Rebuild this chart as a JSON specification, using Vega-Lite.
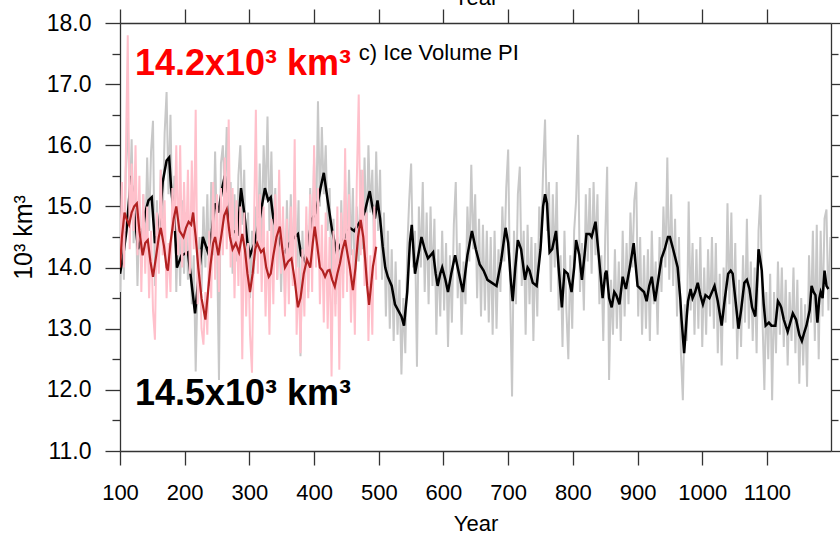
{
  "$schema": "https://vega.github.io/schema/vega-lite/v6.json",
  "width": 711,
  "height": 428,
  "autosize": {"type": "none"},
  "padding": {"left": 120, "top": 23, "right": 9, "bottom": 85},
  "background": "white",
  "config": {
    "view": {"stroke": null},
    "font": "Liberation Sans",
    "axis": {"labelFont": "Liberation Sans", "titleFont": "Liberation Sans", "labelColor": "black", "titleColor": "black", "titleFontWeight": "normal", "domainColor": "#333333", "tickColor": "#333333", "domainWidth": 1.3, "tickWidth": 1.3, "grid": false}
  },
  "datasets": {
    "grey": [
      {"year":100,"vol":13.6},{"year":103,"vol":14.9},{"year":106,"vol":13.8},{"year":109,"vol":15.6},{"year":112,"vol":16.45},{"year":115,"vol":15.0},{"year":118,"vol":16.1},{"year":121,"vol":14.4},{"year":124,"vol":15.3},{"year":127,"vol":13.7},
      {"year":130,"vol":14.9},{"year":133,"vol":14.0},{"year":136,"vol":15.2},{"year":139,"vol":14.3},{"year":142,"vol":15.8},{"year":145,"vol":14.6},{"year":148,"vol":15.9},{"year":151,"vol":16.4},{"year":154,"vol":13.7},{"year":157,"vol":15.1},
      {"year":160,"vol":14.0},{"year":163,"vol":15.6},{"year":166,"vol":14.8},{"year":169,"vol":16.2},{"year":172,"vol":16.87},{"year":175,"vol":15.2},{"year":178,"vol":16.5},{"year":181,"vol":14.6},{"year":184,"vol":15.5},{"year":187,"vol":13.6},
      {"year":190,"vol":14.8},{"year":193,"vol":13.7},{"year":196,"vol":15.1},{"year":199,"vol":13.9},{"year":202,"vol":14.9},{"year":205,"vol":13.8},{"year":208,"vol":14.6},{"year":211,"vol":13.4},{"year":214,"vol":14.2},{"year":217,"vol":12.3},
      {"year":220,"vol":13.8},{"year":223,"vol":14.5},{"year":226,"vol":13.6},{"year":229,"vol":15.0},{"year":232,"vol":14.0},{"year":235,"vol":15.2},{"year":238,"vol":13.7},{"year":241,"vol":15.4},{"year":244,"vol":14.2},{"year":247,"vol":15.9},
      {"year":250,"vol":14.4},{"year":253,"vol":12.16},{"year":256,"vol":15.7},{"year":259,"vol":16.0},{"year":262,"vol":15.2},{"year":265,"vol":16.3},{"year":268,"vol":14.6},{"year":271,"vol":15.4},{"year":274,"vol":13.9},{"year":277,"vol":15.2},
      {"year":280,"vol":14.1},{"year":283,"vol":15.5},{"year":286,"vol":16.0},{"year":289,"vol":14.7},{"year":292,"vol":15.6},{"year":295,"vol":13.8},{"year":298,"vol":14.9},{"year":301,"vol":13.5},{"year":304,"vol":14.6},{"year":307,"vol":13.9},
      {"year":310,"vol":15.0},{"year":313,"vol":14.2},{"year":316,"vol":15.7},{"year":319,"vol":14.4},{"year":322,"vol":16.0},{"year":325,"vol":15.1},{"year":328,"vol":16.47},{"year":331,"vol":14.6},{"year":334,"vol":15.9},{"year":337,"vol":14.3},
      {"year":340,"vol":15.3},{"year":343,"vol":13.8},{"year":346,"vol":15.0},{"year":349,"vol":13.6},{"year":352,"vol":14.8},{"year":355,"vol":13.5},{"year":358,"vol":15.1},{"year":361,"vol":13.9},{"year":364,"vol":15.2},{"year":367,"vol":13.8},
      {"year":370,"vol":15.4},{"year":373,"vol":14.0},{"year":376,"vol":15.1},{"year":379,"vol":12.55},{"year":382,"vol":14.6},{"year":385,"vol":13.5},{"year":388,"vol":14.7},{"year":391,"vol":13.6},{"year":394,"vol":15.3},{"year":397,"vol":14.2},
      {"year":400,"vol":15.8},{"year":403,"vol":14.5},{"year":406,"vol":16.72},{"year":409,"vol":15.0},{"year":412,"vol":16.3},{"year":415,"vol":15.2},{"year":418,"vol":16.0},{"year":421,"vol":14.6},{"year":424,"vol":15.3},{"year":427,"vol":13.8},
      {"year":430,"vol":14.8},{"year":433,"vol":13.4},{"year":436,"vol":14.5},{"year":439,"vol":13.3},{"year":442,"vol":15.1},{"year":445,"vol":13.9},{"year":448,"vol":15.4},{"year":451,"vol":14.0},{"year":454,"vol":15.6},{"year":457,"vol":14.2},
      {"year":460,"vol":15.3},{"year":463,"vol":13.6},{"year":466,"vol":15.0},{"year":469,"vol":14.1},{"year":472,"vol":15.6},{"year":475,"vol":14.3},{"year":478,"vol":15.8},{"year":481,"vol":14.4},{"year":484,"vol":16.0},{"year":487,"vol":14.9},
      {"year":490,"vol":15.6},{"year":493,"vol":14.2},{"year":496,"vol":15.9},{"year":499,"vol":14.6},{"year":502,"vol":15.6},{"year":505,"vol":13.8},{"year":508,"vol":14.9},{"year":511,"vol":13.2},{"year":514,"vol":14.6},{"year":517,"vol":13.0},
      {"year":520,"vol":14.3},{"year":523,"vol":12.8},{"year":526,"vol":14.1},{"year":529,"vol":12.9},{"year":532,"vol":13.8},{"year":535,"vol":12.25},{"year":538,"vol":13.5},{"year":541,"vol":12.6},{"year":544,"vol":14.3},{"year":547,"vol":15.1},
      {"year":550,"vol":15.7},{"year":553,"vol":14.0},{"year":556,"vol":14.6},{"year":559,"vol":12.38},{"year":562,"vol":15.0},{"year":565,"vol":14.0},{"year":568,"vol":15.4},{"year":571,"vol":13.6},{"year":574,"vol":14.9},{"year":577,"vol":13.4},
      {"year":580,"vol":15.0},{"year":583,"vol":13.7},{"year":586,"vol":14.8},{"year":589,"vol":12.9},{"year":592,"vol":14.3},{"year":595,"vol":13.2},{"year":598,"vol":14.6},{"year":601,"vol":13.3},{"year":604,"vol":14.4},{"year":607,"vol":12.7},
      {"year":610,"vol":14.2},{"year":613,"vol":13.1},{"year":616,"vol":14.7},{"year":619,"vol":15.4},{"year":622,"vol":13.5},{"year":625,"vol":14.4},{"year":628,"vol":12.9},{"year":631,"vol":14.1},{"year":634,"vol":13.4},{"year":637,"vol":15.0},
      {"year":640,"vol":14.1},{"year":643,"vol":15.68},{"year":646,"vol":14.3},{"year":649,"vol":15.2},{"year":652,"vol":13.5},{"year":655,"vol":14.8},{"year":658,"vol":13.2},{"year":661,"vol":14.7},{"year":664,"vol":13.3},{"year":667,"vol":14.6},
      {"year":670,"vol":13.1},{"year":673,"vol":14.5},{"year":676,"vol":12.9},{"year":679,"vol":14.6},{"year":682,"vol":13.0},{"year":685,"vol":14.3},{"year":688,"vol":13.6},{"year":691,"vol":15.0},{"year":694,"vol":14.1},{"year":697,"vol":15.3},
      {"year":700,"vol":15.93},{"year":703,"vol":13.6},{"year":706,"vol":11.89},{"year":709,"vol":14.6},{"year":712,"vol":13.4},{"year":715,"vol":15.2},{"year":718,"vol":15.65},{"year":721,"vol":13.7},{"year":724,"vol":14.6},{"year":727,"vol":12.9},
      {"year":730,"vol":14.7},{"year":733,"vol":13.4},{"year":736,"vol":14.5},{"year":739,"vol":12.8},{"year":742,"vol":14.4},{"year":745,"vol":13.2},{"year":748,"vol":15.0},{"year":751,"vol":14.4},{"year":754,"vol":15.6},{"year":757,"vol":16.42},
      {"year":760,"vol":14.6},{"year":763,"vol":15.4},{"year":766,"vol":13.6},{"year":769,"vol":15.2},{"year":772,"vol":14.0},{"year":775,"vol":15.4},{"year":778,"vol":13.3},{"year":781,"vol":14.2},{"year":784,"vol":12.7},{"year":787,"vol":14.6},
      {"year":790,"vol":13.3},{"year":793,"vol":12.5},{"year":796,"vol":14.2},{"year":799,"vol":13.0},{"year":802,"vol":14.6},{"year":805,"vol":15.1},{"year":808,"vol":16.17},{"year":811,"vol":13.6},{"year":814,"vol":14.4},{"year":817,"vol":13.3},
      {"year":820,"vol":15.2},{"year":823,"vol":14.1},{"year":826,"vol":15.3},{"year":829,"vol":13.9},{"year":832,"vol":15.4},{"year":835,"vol":14.2},{"year":838,"vol":15.2},{"year":841,"vol":13.4},{"year":844,"vol":14.2},{"year":847,"vol":12.8},
      {"year":850,"vol":14.5},{"year":853,"vol":15.65},{"year":856,"vol":12.16},{"year":859,"vol":13.8},{"year":862,"vol":12.9},{"year":865,"vol":14.3},{"year":868,"vol":13.0},{"year":871,"vol":14.1},{"year":874,"vol":12.8},{"year":877,"vol":14.6},
      {"year":880,"vol":13.2},{"year":883,"vol":14.4},{"year":886,"vol":13.4},{"year":889,"vol":14.9},{"year":892,"vol":14.0},{"year":895,"vol":15.1},{"year":898,"vol":15.4},{"year":901,"vol":13.2},{"year":904,"vol":14.5},{"year":907,"vol":12.9},
      {"year":910,"vol":14.2},{"year":913,"vol":13.0},{"year":916,"vol":14.3},{"year":919,"vol":12.8},{"year":922,"vol":14.6},{"year":925,"vol":13.4},{"year":928,"vol":14.1},{"year":931,"vol":12.9},{"year":934,"vol":14.5},{"year":937,"vol":13.6},
      {"year":940,"vol":15.0},{"year":943,"vol":14.0},{"year":946,"vol":15.8},{"year":949,"vol":13.8},{"year":952,"vol":15.2},{"year":955,"vol":13.7},{"year":958,"vol":14.8},{"year":961,"vol":13.2},{"year":964,"vol":14.5},{"year":967,"vol":12.6},
      {"year":970,"vol":11.83},{"year":973,"vol":13.4},{"year":976,"vol":12.8},{"year":979,"vol":15.08},{"year":982,"vol":13.3},{"year":985,"vol":14.4},{"year":988,"vol":12.9},{"year":991,"vol":14.3},{"year":994,"vol":13.0},{"year":997,"vol":14.5},
      {"year":1000,"vol":12.7},{"year":1003,"vol":14.0},{"year":1006,"vol":12.9},{"year":1009,"vol":14.3},{"year":1012,"vol":13.2},{"year":1015,"vol":14.5},{"year":1018,"vol":13.0},{"year":1021,"vol":14.4},{"year":1024,"vol":12.6},{"year":1027,"vol":13.9},
      {"year":1030,"vol":12.4},{"year":1033,"vol":14.0},{"year":1036,"vol":13.1},{"year":1039,"vol":15.05},{"year":1042,"vol":13.4},{"year":1045,"vol":14.9},{"year":1048,"vol":13.0},{"year":1051,"vol":14.4},{"year":1054,"vol":12.5},{"year":1057,"vol":13.8},
      {"year":1060,"vol":12.7},{"year":1063,"vol":14.2},{"year":1066,"vol":13.1},{"year":1069,"vol":14.8},{"year":1072,"vol":13.0},{"year":1075,"vol":14.1},{"year":1078,"vol":12.8},{"year":1081,"vol":14.0},{"year":1084,"vol":12.6},{"year":1087,"vol":14.6},
      {"year":1090,"vol":15.19},{"year":1093,"vol":13.2},{"year":1096,"vol":12.0},{"year":1099,"vol":13.6},{"year":1102,"vol":12.5},{"year":1105,"vol":13.9},{"year":1108,"vol":11.83},{"year":1111,"vol":13.6},{"year":1114,"vol":12.6},{"year":1117,"vol":14.1},
      {"year":1120,"vol":12.9},{"year":1123,"vol":14.0},{"year":1126,"vol":12.7},{"year":1129,"vol":13.8},{"year":1132,"vol":12.4},{"year":1135,"vol":13.6},{"year":1138,"vol":12.8},{"year":1141,"vol":14.0},{"year":1144,"vol":12.6},{"year":1147,"vol":13.8},
      {"year":1150,"vol":12.1},{"year":1153,"vol":13.5},{"year":1156,"vol":12.4},{"year":1159,"vol":13.4},{"year":1162,"vol":12.05},{"year":1165,"vol":14.2},{"year":1168,"vol":13.1},{"year":1171,"vol":14.6},{"year":1174,"vol":12.8},{"year":1177,"vol":14.7},
      {"year":1180,"vol":12.5},{"year":1183,"vol":14.6},{"year":1186,"vol":13.2},{"year":1189,"vol":14.8},{"year":1192,"vol":14.95},{"year":1195,"vol":13.3},{"year":1198,"vol":14.5}
    ],
    "pink": [
      {"year":100,"vol":14.1},{"year":103,"vol":15.4},{"year":106,"vol":14.0},{"year":109,"vol":15.8},{"year":112,"vol":17.8},{"year":115,"vol":14.3},{"year":118,"vol":15.7},{"year":121,"vol":14.6},{"year":124,"vol":16.0},{"year":127,"vol":14.2},
      {"year":130,"vol":15.5},{"year":133,"vol":13.6},{"year":136,"vol":15.2},{"year":139,"vol":13.9},{"year":142,"vol":15.0},{"year":145,"vol":13.5},{"year":148,"vol":14.6},{"year":151,"vol":13.3},{"year":154,"vol":12.82},{"year":157,"vol":14.9},
      {"year":160,"vol":13.9},{"year":163,"vol":15.6},{"year":166,"vol":14.2},{"year":169,"vol":15.1},{"year":172,"vol":13.5},{"year":175,"vol":14.4},{"year":178,"vol":13.6},{"year":181,"vol":15.3},{"year":184,"vol":14.6},{"year":187,"vol":16.0},
      {"year":190,"vol":14.2},{"year":193,"vol":16.0},{"year":196,"vol":14.0},{"year":199,"vol":15.4},{"year":202,"vol":14.2},{"year":205,"vol":15.6},{"year":208,"vol":13.9},{"year":211,"vol":15.75},{"year":214,"vol":14.3},{"year":217,"vol":16.58},
      {"year":220,"vol":13.4},{"year":223,"vol":14.3},{"year":226,"vol":13.0},{"year":229,"vol":12.74},{"year":232,"vol":13.6},{"year":235,"vol":12.9},{"year":238,"vol":14.6},{"year":241,"vol":13.5},{"year":244,"vol":15.4},{"year":247,"vol":13.8},
      {"year":250,"vol":15.2},{"year":253,"vol":13.6},{"year":256,"vol":15.3},{"year":259,"vol":14.2},{"year":262,"vol":15.8},{"year":265,"vol":14.3},{"year":268,"vol":16.42},{"year":271,"vol":14.0},{"year":274,"vol":15.3},{"year":277,"vol":13.5},
      {"year":280,"vol":15.1},{"year":283,"vol":13.7},{"year":286,"vol":15.0},{"year":289,"vol":12.5},{"year":292,"vol":14.9},{"year":295,"vol":13.2},{"year":298,"vol":14.4},{"year":301,"vol":12.9},{"year":304,"vol":12.28},{"year":307,"vol":14.6},
      {"year":310,"vol":16.58},{"year":313,"vol":13.9},{"year":316,"vol":15.2},{"year":319,"vol":13.6},{"year":322,"vol":15.0},{"year":325,"vol":13.2},{"year":328,"vol":14.6},{"year":331,"vol":12.9},{"year":334,"vol":14.8},{"year":337,"vol":13.4},
      {"year":340,"vol":15.2},{"year":343,"vol":13.8},{"year":346,"vol":15.6},{"year":349,"vol":13.9},{"year":352,"vol":15.0},{"year":355,"vol":13.2},{"year":358,"vol":14.8},{"year":361,"vol":13.4},{"year":364,"vol":15.0},{"year":367,"vol":13.7},
      {"year":370,"vol":16.1},{"year":373,"vol":12.9},{"year":376,"vol":14.0},{"year":379,"vol":12.6},{"year":382,"vol":14.3},{"year":385,"vol":13.2},{"year":388,"vol":15.0},{"year":391,"vol":13.5},{"year":394,"vol":15.2},{"year":397,"vol":13.6},
      {"year":400,"vol":16.0},{"year":403,"vol":14.0},{"year":406,"vol":15.3},{"year":409,"vol":13.4},{"year":412,"vol":14.7},{"year":415,"vol":13.1},{"year":418,"vol":14.9},{"year":421,"vol":13.0},{"year":424,"vol":14.5},{"year":427,"vol":12.22},
      {"year":430,"vol":14.6},{"year":433,"vol":13.2},{"year":436,"vol":15.0},{"year":439,"vol":12.33},{"year":442,"vol":14.9},{"year":445,"vol":13.5},{"year":448,"vol":15.95},{"year":451,"vol":13.6},{"year":454,"vol":15.2},{"year":457,"vol":13.1},
      {"year":460,"vol":14.3},{"year":463,"vol":12.9},{"year":466,"vol":15.4},{"year":469,"vol":16.83},{"year":472,"vol":14.2},{"year":475,"vol":15.6},{"year":478,"vol":13.7},{"year":481,"vol":14.9},{"year":484,"vol":12.8},{"year":487,"vol":14.2},
      {"year":490,"vol":12.9},{"year":493,"vol":15.0},{"year":496,"vol":13.8}
    ],
    "black": [
      {"year":100,"vol":13.9},{"year":105,"vol":14.2},{"year":110,"vol":14.6},{"year":117,"vol":15.5},{"year":122,"vol":14.9},{"year":128,"vol":14.3},{"year":134,"vol":14.5},{"year":139,"vol":14.9},{"year":144,"vol":15.1},{"year":149,"vol":15.15},
      {"year":154,"vol":14.4},{"year":160,"vol":14.6},{"year":166,"vol":15.4},{"year":172,"vol":15.75},{"year":176,"vol":15.8},{"year":179,"vol":15.3},{"year":184,"vol":14.8},{"year":188,"vol":14.0},{"year":195,"vol":14.2},{"year":205,"vol":14.25},
      {"year":210,"vol":13.8},{"year":216,"vol":13.25},{"year":222,"vol":13.9},{"year":228,"vol":14.5},{"year":236,"vol":14.25},{"year":242,"vol":14.6},{"year":247,"vol":15.05},{"year":252,"vol":14.9},{"year":258,"vol":15.3},{"year":262,"vol":15.5},
      {"year":267,"vol":14.8},{"year":275,"vol":14.6},{"year":282,"vol":14.55},{"year":287,"vol":15.3},{"year":292,"vol":14.9},{"year":297,"vol":14.4},{"year":301,"vol":14.2},{"year":308,"vol":14.4},{"year":316,"vol":14.8},{"year":324,"vol":15.3},
      {"year":329,"vol":15.1},{"year":333,"vol":15.15},{"year":337,"vol":14.8},{"year":345,"vol":14.5},{"year":350,"vol":14.3},{"year":355,"vol":14.25},{"year":362,"vol":14.4},{"year":370,"vol":14.5},{"year":375,"vol":14.55},{"year":380,"vol":14.2},
      {"year":386,"vol":14.1},{"year":392,"vol":14.5},{"year":397,"vol":14.8},{"year":403,"vol":14.9},{"year":410,"vol":15.3},{"year":415,"vol":15.55},{"year":421,"vol":15.1},{"year":428,"vol":14.6},{"year":435,"vol":14.25},{"year":442,"vol":14.4},
      {"year":448,"vol":14.5},{"year":455,"vol":14.65},{"year":462,"vol":14.6},{"year":471,"vol":14.75},{"year":478,"vol":14.9},{"year":486,"vol":15.25},{"year":490,"vol":15.0},{"year":494,"vol":14.8},{"year":498,"vol":15.1},{"year":502,"vol":14.8},
      {"year":506,"vol":14.35},{"year":510,"vol":14.0},{"year":514,"vol":13.85},{"year":520,"vol":13.7},{"year":525,"vol":13.4},{"year":530,"vol":13.3},{"year":535,"vol":13.2},{"year":539,"vol":13.05},{"year":544,"vol":13.6},{"year":548,"vol":14.4},
      {"year":551,"vol":14.7},{"year":556,"vol":13.9},{"year":561,"vol":14.2},{"year":566,"vol":14.5},{"year":571,"vol":14.3},{"year":576,"vol":14.15},{"year":580,"vol":14.2},{"year":584,"vol":14.25},{"year":588,"vol":13.9},{"year":591,"vol":13.7},
      {"year":595,"vol":13.9},{"year":598,"vol":14.0},{"year":603,"vol":13.8},{"year":607,"vol":13.6},{"year":612,"vol":13.9},{"year":618,"vol":14.2},{"year":624,"vol":13.9},{"year":630,"vol":13.6},{"year":637,"vol":14.2},{"year":644,"vol":14.6},
      {"year":650,"vol":14.3},{"year":656,"vol":14.05},{"year":662,"vol":13.95},{"year":668,"vol":13.8},{"year":675,"vol":13.75},{"year":682,"vol":13.7},{"year":689,"vol":14.1},{"year":696,"vol":14.65},{"year":700,"vol":14.4},{"year":704,"vol":13.8},
      {"year":707,"vol":13.45},{"year":711,"vol":14.0},{"year":715,"vol":14.45},{"year":720,"vol":14.3},{"year":726,"vol":13.8},{"year":730,"vol":14.0},{"year":733,"vol":13.95},{"year":738,"vol":13.75},{"year":744,"vol":13.7},{"year":750,"vol":14.3},
      {"year":754,"vol":15.0},{"year":757,"vol":15.2},{"year":760,"vol":15.05},{"year":764,"vol":14.25},{"year":768,"vol":14.3},{"year":774,"vol":14.6},{"year":778,"vol":14.0},{"year":783,"vol":13.35},{"year":787,"vol":13.95},{"year":792,"vol":13.9},
      {"year":798,"vol":13.6},{"year":802,"vol":14.0},{"year":805,"vol":14.45},{"year":810,"vol":14.2},{"year":814,"vol":13.8},{"year":818,"vol":14.2},{"year":821,"vol":14.55},{"year":826,"vol":14.55},{"year":829,"vol":14.5},{"year":835,"vol":14.75},
      {"year":840,"vol":14.2},{"year":846,"vol":13.5},{"year":850,"vol":13.9},{"year":852,"vol":13.95},{"year":856,"vol":13.5},{"year":860,"vol":13.35},{"year":864,"vol":13.6},{"year":867,"vol":13.55},{"year":872,"vol":13.4},{"year":877,"vol":13.85},
      {"year":882,"vol":13.65},{"year":888,"vol":14.0},{"year":894,"vol":14.4},{"year":900,"vol":13.7},{"year":905,"vol":13.65},{"year":910,"vol":13.6},{"year":914,"vol":13.45},{"year":918,"vol":13.7},{"year":922,"vol":13.85},{"year":927,"vol":13.45},
      {"year":932,"vol":13.8},{"year":937,"vol":14.15},{"year":942,"vol":14.3},{"year":947,"vol":14.5},{"year":950,"vol":14.5},{"year":955,"vol":14.3},{"year":962,"vol":14.0},{"year":966,"vol":13.5},{"year":968,"vol":13.15},{"year":972,"vol":12.6},
      {"year":976,"vol":13.2},{"year":978,"vol":13.45},{"year":982,"vol":13.65},{"year":985,"vol":13.5},{"year":989,"vol":13.6},{"year":993,"vol":13.75},{"year":997,"vol":13.55},{"year":1001,"vol":13.4},{"year":1005,"vol":13.55},{"year":1011,"vol":13.5},
      {"year":1015,"vol":13.6},{"year":1019,"vol":13.7},{"year":1024,"vol":13.45},{"year":1030,"vol":13.05},{"year":1035,"vol":13.5},{"year":1040,"vol":13.9},{"year":1044,"vol":13.95},{"year":1047,"vol":13.9},{"year":1051,"vol":13.5},{"year":1056,"vol":13.0},
      {"year":1060,"vol":13.3},{"year":1065,"vol":13.75},{"year":1069,"vol":13.8},{"year":1073,"vol":13.65},{"year":1077,"vol":13.35},{"year":1082,"vol":13.2},{"year":1085,"vol":13.8},{"year":1087,"vol":14.3},{"year":1090,"vol":14.1},{"year":1092,"vol":13.95},
      {"year":1095,"vol":13.4},{"year":1098,"vol":13.05},{"year":1103,"vol":13.1},{"year":1107,"vol":13.05},{"year":1113,"vol":13.05},{"year":1117,"vol":13.45},{"year":1120,"vol":13.4},{"year":1122,"vol":13.35},{"year":1126,"vol":13.15},{"year":1132,"vol":12.95},
      {"year":1136,"vol":13.1},{"year":1140,"vol":13.25},{"year":1145,"vol":13.15},{"year":1150,"vol":12.9},{"year":1154,"vol":12.8},{"year":1158,"vol":12.95},{"year":1161,"vol":13.05},{"year":1166,"vol":13.3},{"year":1169,"vol":13.7},{"year":1172,"vol":13.6},
      {"year":1175,"vol":13.55},{"year":1178,"vol":13.1},{"year":1181,"vol":13.5},{"year":1183,"vol":13.6},{"year":1186,"vol":13.5},{"year":1189,"vol":13.95},{"year":1192,"vol":13.7},{"year":1195,"vol":13.65}
    ],
    "red": [
      {"year":100,"vol":14.0},{"year":103,"vol":14.5},{"year":107,"vol":14.9},{"year":110,"vol":14.8},{"year":114,"vol":14.7},{"year":118,"vol":14.9},{"year":122,"vol":15.0},{"year":126,"vol":15.05},{"year":130,"vol":14.6},{"year":135,"vol":14.2},
      {"year":139,"vol":14.4},{"year":143,"vol":14.45},{"year":147,"vol":14.1},{"year":151,"vol":13.85},{"year":156,"vol":14.2},{"year":160,"vol":14.5},{"year":163,"vol":14.65},{"year":168,"vol":14.35},{"year":172,"vol":14.0},{"year":174,"vol":13.95},
      {"year":178,"vol":14.4},{"year":183,"vol":14.8},{"year":187,"vol":15.0},{"year":192,"vol":14.6},{"year":198,"vol":14.5},{"year":202,"vol":14.65},{"year":206,"vol":14.75},{"year":210,"vol":14.7},{"year":213,"vol":14.9},{"year":217,"vol":14.5},
      {"year":221,"vol":14.0},{"year":226,"vol":13.5},{"year":232,"vol":13.15},{"year":236,"vol":13.6},{"year":240,"vol":14.05},{"year":244,"vol":14.4},{"year":247,"vol":14.5},{"year":252,"vol":14.2},{"year":257,"vol":14.55},{"year":261,"vol":14.85},
      {"year":265,"vol":14.95},{"year":270,"vol":14.5},{"year":274,"vol":14.3},{"year":279,"vol":14.4},{"year":284,"vol":14.25},{"year":289,"vol":14.55},{"year":293,"vol":14.3},{"year":297,"vol":13.9},{"year":301,"vol":13.6},{"year":305,"vol":13.9},
      {"year":309,"vol":14.3},{"year":312,"vol":14.4},{"year":318,"vol":14.25},{"year":322,"vol":14.3},{"year":326,"vol":14.0},{"year":330,"vol":13.85},{"year":333,"vol":13.9},{"year":337,"vol":14.2},{"year":342,"vol":14.5},{"year":347,"vol":14.67},
      {"year":351,"vol":14.3},{"year":355,"vol":14.0},{"year":360,"vol":14.1},{"year":365,"vol":14.15},{"year":370,"vol":13.8},{"year":375,"vol":13.35},{"year":379,"vol":13.5},{"year":384,"vol":13.9},{"year":389,"vol":14.13},{"year":394,"vol":14.0},
      {"year":398,"vol":14.4},{"year":401,"vol":14.67},{"year":405,"vol":14.35},{"year":409,"vol":14.0},{"year":413,"vol":13.95},{"year":417,"vol":13.85},{"year":421,"vol":13.95},{"year":424,"vol":13.96},{"year":428,"vol":13.8},{"year":432,"vol":13.69},
      {"year":436,"vol":13.9},{"year":440,"vol":14.07},{"year":444,"vol":14.3},{"year":448,"vol":14.45},{"year":452,"vol":14.2},{"year":455,"vol":14.02},{"year":460,"vol":13.63},{"year":464,"vol":14.0},{"year":468,"vol":14.5},{"year":472,"vol":14.78},
      {"year":476,"vol":14.5},{"year":479,"vol":14.13},{"year":482,"vol":13.7},{"year":485,"vol":13.39},{"year":488,"vol":13.7},{"year":491,"vol":14.02},{"year":494,"vol":14.2},{"year":496,"vol":14.34}
    ],
    "labels": [
      {"year":469,"vol":17.4,"text":"c) Ice Volume PI","kind":"panel"},
      {"year":123,"vol":17.15,"text":"14.2x10³ km³","kind":"red"},
      {"year":123,"vol":11.75,"text":"14.5x10³ km³","kind":"black"}
    ]
  },
  "resolve": {"axis": {"x": "independent", "y": "independent"}},
  "layer": [
    {
      "data": {"name": "grey"},
      "mark": {"type": "line", "color": "#c8c8c8", "strokeWidth": 2, "clip": true},
      "encoding": {
        "x": {"field": "year", "type": "quantitative", "scale": {"domain": [100, 1199], "nice": false, "zero": false},
          "axis": {"orient": "bottom", "values": [100,200,300,400,500,600,700,800,900,1000,1100], "format": "d", "labelFontSize": 22, "tickSize": 14, "labelPadding": 17, "labelFlush": false, "labelOverlap": false, "title": "Year", "titleFontSize": 22, "titlePadding": 10}},
        "y": {"field": "vol", "type": "quantitative", "scale": {"domain": [11, 18], "nice": false, "zero": false},
          "axis": {"orient": "left", "values": [11,12,13,14,15,16,17,18], "format": ".1f", "labelFontSize": 23, "tickSize": 15, "labelPadding": 14, "title": "10³ km³", "titleFontSize": 25, "titlePadding": 10}}
      }
    },
    {
      "data": {"name": "black"},
      "mark": {"type": "line", "color": "black", "strokeWidth": 2.5, "clip": true},
      "encoding": {
        "x": {"field": "year", "type": "quantitative", "scale": {"domain": [100, 1199], "nice": false, "zero": false},
          "axis": {"orient": "top", "values": [100,200,300,400,500,600,700,800,900,1000,1100], "labels": false, "tickSize": 14, "title": "Year", "titleFontSize": 22, "titlePadding": 4, "titleBaseline": "alphabetic"}},
        "y": {"field": "vol", "type": "quantitative", "scale": {"domain": [11, 18], "nice": false, "zero": false},
          "axis": {"orient": "right", "values": [11,12,13,14,15,16,17,18], "labels": false, "tickSize": 14, "title": null}}
      }
    },
    {
      "data": {"name": "pink"},
      "mark": {"type": "line", "color": "#ffc0cb", "strokeWidth": 2, "clip": true},
      "encoding": {
        "x": {"field": "year", "type": "quantitative", "scale": {"domain": [100, 1199], "nice": false, "zero": false}, "axis": null},
        "y": {"field": "vol", "type": "quantitative", "scale": {"domain": [11, 18], "nice": false, "zero": false},
          "axis": {"orient": "left", "values": [11.5,12.5,13.5,14.5,15.5,16.5,17.5], "labels": false, "tickSize": 8, "domain": false, "title": null}}
      }
    },
    {
      "data": {"name": "red"},
      "mark": {"type": "line", "color": "#b22222", "strokeWidth": 2.2, "clip": true},
      "encoding": {
        "x": {"field": "year", "type": "quantitative", "scale": {"domain": [100, 1199], "nice": false, "zero": false}, "axis": null},
        "y": {"field": "vol", "type": "quantitative", "scale": {"domain": [11, 18], "nice": false, "zero": false},
          "axis": {"orient": "right", "values": [11.5,12.5,13.5,14.5,15.5,16.5,17.5], "labels": false, "tickSize": 7, "domain": false, "title": null}}
      }
    },
    {
      "data": {"name": "labels"},
      "transform": [{"filter": "datum.kind == 'panel'"}],
      "mark": {"type": "text", "align": "left", "baseline": "alphabetic", "fontSize": 22, "font": "Liberation Sans", "color": "black"},
      "encoding": {
        "x": {"field": "year", "type": "quantitative", "axis": null},
        "y": {"field": "vol", "type": "quantitative", "axis": null},
        "text": {"field": "text"}
      }
    },
    {
      "data": {"name": "labels"},
      "transform": [{"filter": "datum.kind != 'panel'"}],
      "mark": {"type": "text", "align": "left", "baseline": "alphabetic", "fontSize": 36, "fontWeight": "bold", "font": "Liberation Sans"},
      "encoding": {
        "x": {"field": "year", "type": "quantitative", "axis": null},
        "y": {"field": "vol", "type": "quantitative", "axis": null},
        "text": {"field": "text"},
        "color": {"field": "kind", "type": "nominal", "scale": {"domain": ["red", "black"], "range": ["#ff0000", "#000000"]}, "legend": null}
      }
    }
  ]
}
